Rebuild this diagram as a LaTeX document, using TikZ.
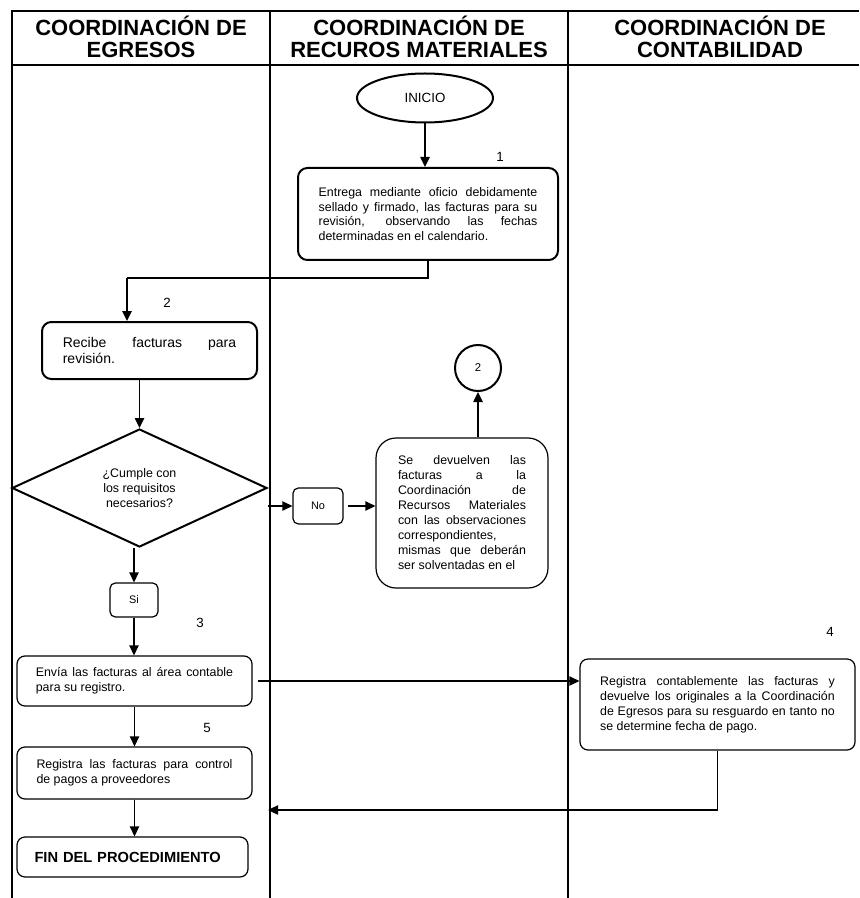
\documentclass[tikz,border=0pt]{standalone}
\usepackage{fontspec}
\setmainfont{Liberation Sans}
\usetikzlibrary{shapes.geometric,arrows.meta}

\tikzset{
  marco/.style={line width=1pt},
  encabezado/.style={font=\bfseries\fontsize{16.5}{16.5}\selectfont, align=center},
  gruesa/.style={draw, line width=1.5pt, rounded corners=7pt, inner sep=0pt, align=justify,
    font=\fontsize{9.3}{10.8}\selectfont},
  delgada/.style={draw, line width=0.9pt, rounded corners=6pt, inner sep=0pt, align=justify,
    font=\fontsize{9.3}{11.3}\selectfont},
  etiqueta/.style={draw, line width=0.9pt, rounded corners=4pt, inner sep=0pt,
    font=\fontsize{8.2}{10}\selectfont},
  numero/.style={font=\fontsize{10}{12}\selectfont},
  flecha/.style={line width=1.1pt, -{Triangle[length=7.5pt,width=7pt]}},
  linea/.style={line width=0.8pt}
}

\begin{document}
\begin{tikzpicture}[x=0.75pt,y=-0.75pt]
    \useasboundingbox (0,0) rectangle (859,898);

    % Marco de la tabla
    \draw[marco] (12,898) -- (12,11) -- (859,11);
    \draw[marco] (12,65) -- (859,65);
    \draw[marco] (270,11) -- (270,898);
    \draw[marco] (568,11) -- (568,898);

    % Encabezados de las columnas
    \node[encabezado] (egresos) at (141,37) {COORDINACIÓN DE\\EGRESOS};
    \node[encabezado] (materiales) at (419,37) {COORDINACIÓN DE\\RECUROS MATERIALES};
    \node[encabezado] (contabilidad) at (720,37) {COORDINACIÓN DE\\CONTABILIDAD};

    % Inicio y paso 1
    \node[ellipse, draw, line width=1.5pt, minimum width=102pt, minimum height=36.75pt,
      inner sep=0pt, font=\fontsize{10}{12}\selectfont] (inicio) at (425,98) {INICIO};
    \node[gruesa, minimum width=195pt, minimum height=69pt, text width=164pt] (paso1) at (428,214)
      {Entrega mediante oficio debidamente\linebreak sellado y firmado, las facturas para su\linebreak revisión, observando las fechas\linebreak determinadas en el calendario.};
    \node[numero] (num1) at (500,157) {1};

    % Paso 2 y decision
    \node[gruesa, minimum width=161.25pt, minimum height=42.75pt, text width=130pt,
      font=\fontsize{10.5}{12}\selectfont] (paso2) at (149.5,350.5)
      {Recibe facturas para\linebreak revisión.};
    \node[numero] (num2) at (167,303) {2};
    \node[diamond, draw, line width=1.5pt, minimum width=191.25pt, minimum height=88.5pt,
      inner sep=0pt, align=center, font=\fontsize{9.3}{11.25}\selectfont] (decision) at (139.5,488)
      {¿Cumple con\\los requisitos\\necesarios?};

    % Rama negativa
    \node[etiqueta, minimum width=37.5pt, minimum height=27pt] (no) at (318,506) {No};
    \node[delgada, rounded corners=15pt, minimum width=129pt, minimum height=112.5pt, text width=96pt,
      font=\fontsize{9.3}{11.25}\selectfont] (devuelve) at (462,513)
      {\parfillskip=0pt Se devuelven las\linebreak facturas a la\linebreak Coordinación de\linebreak Recursos Materiales\linebreak con las observaciones\linebreak correspondientes,\\ mismas que deberán\linebreak ser solventadas en el};
    \node[circle, draw, line width=1.5pt, minimum size=34.5pt, inner sep=0pt,
      font=\fontsize{8.5}{10}\selectfont] (conector) at (478,368) {2};

    % Rama afirmativa
    \node[etiqueta, minimum width=36pt, minimum height=25.5pt] (si) at (134,600) {Si};
    \node[delgada, minimum width=176.25pt, minimum height=37.5pt, text width=148pt] (envia) at (134.5,681)
      {Envía las facturas al área contable\linebreak para su registro.};
    \node[numero] (num3) at (200,623) {3};
    \node[delgada, minimum width=206.25pt, minimum height=68.25pt, text width=176pt] (contable) at (717.5,704.5)
      {Registra contablemente las facturas y\linebreak devuelve los originales a la Coordinación\linebreak de Egresos para su resguardo en tanto no\linebreak se determine fecha de pago.};
    \node[numero] (num4) at (830,632) {4};
    \node[delgada, minimum width=176.25pt, minimum height=39pt, text width=147pt] (control) at (134.5,773)
      {Registra las facturas para control\linebreak de pagos a proveedores};
    \node[numero] (num5) at (207,728) {5};
    \node[delgada, align=left, minimum width=173.25pt, minimum height=30pt, text width=147pt,
      font=\bfseries\fontsize{11}{13}\selectfont] (fin) at (132.5,857) {FIN DEL PROCEDIMIENTO};

    % Conectores
    \coordinate (codo) at (127,278);
    \coordinate (retorno) at (268,810);
    \draw[flecha] (inicio) -- (inicio |- paso1.north);
    \draw[linea] (paso1.south) |- (codo);
    \draw[flecha] (codo) -- (codo |- paso2.north);
    \draw[flecha] (decision.north |- paso2.south) -- (decision.north);
    \draw[flecha] (decision.east |- no.west) -- (no.west);
    \draw[flecha, shorten <=3pt] (no.east) -- (no.east -| devuelve.west);
    \draw[flecha] (conector.south |- devuelve.north) -- (conector.south);
    \draw[flecha] (si.north |- decision.south) -- (si.north);
    \draw[flecha] (si.south) -- (si.south |- envia.north);
    \draw[flecha, line width=0.9pt, shorten <=4pt] (envia.east) -- (envia.east -| contable.west);
    \draw[flecha, line width=0.9pt] (contable.south) |- (retorno);
    \draw[flecha] (envia.south) -- (envia.south |- control.north);
    \draw[flecha] (control.south) -- (control.south |- fin.north);
\end{tikzpicture}
\end{document}
